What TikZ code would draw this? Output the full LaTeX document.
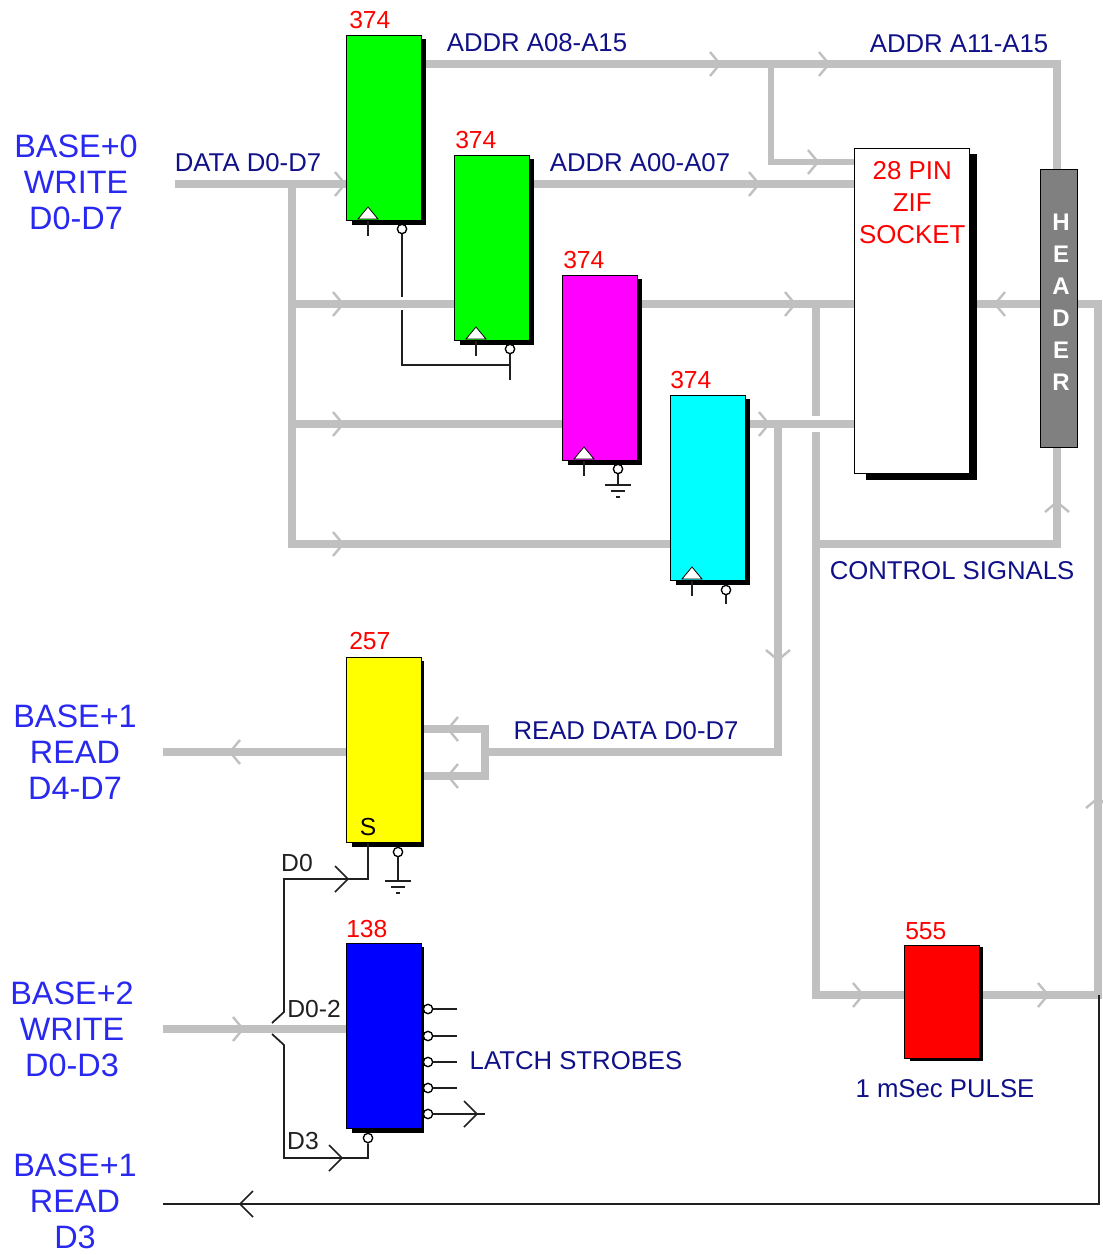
\documentclass[tikz,border=0pt]{standalone}
\usepackage{fontspec}
\setmainfont{Liberation Sans}
\usetikzlibrary{positioning,backgrounds}
\pgfdeclarelayer{buses}
\pgfsetlayers{buses,background,main}
\definecolor{busGray}{HTML}{C0C0C0}
\definecolor{wireDark}{HTML}{202020}
\definecolor{baseBlue}{HTML}{2828F0}
\definecolor{noteNavy}{HTML}{101088}
\definecolor{partRed}{HTML}{FF0000}
\definecolor{hdrGray}{HTML}{808080}
\definecolor{chipGreen}{HTML}{00FF00}
\definecolor{chipMagenta}{HTML}{FF00FF}
\definecolor{chipCyan}{HTML}{00FFFF}
\definecolor{chipYellow}{HTML}{FFFF00}
\definecolor{chipBlue}{HTML}{0000FF}
\definecolor{chipRed}{HTML}{FF0000}

\begin{document}
\begin{tikzpicture}[
  x=0.75pt, y=-0.75pt,
  font=\fontsize{18.5}{24}\selectfont,
  bus/.style={line width=5.6pt, draw=busGray},
  wire/.style={line width=1.3pt, draw=wireDark},
  base/.style={font=\fontsize{24.3}{27}\selectfont, text=baseBlue, align=center, inner sep=0pt},
  note/.style={font=\fontsize{19.3}{24}\selectfont, text=noteNavy, inner sep=0pt},
  partno/.style={text=partRed, inner sep=0pt},
  pinname/.style={text=wireDark, inner sep=0pt},
  chip/.style={
    rectangle, draw=black, line width=1.1pt, inner sep=0pt, anchor=north west,
    minimum width=56.25pt, minimum height=138.75pt
  },
  bubble/.style={circle, draw=black, fill=white, line width=1pt, minimum size=7pt, inner sep=0pt},
  clocktip/.style={draw=black, fill=white, line width=0.6pt},
  graybarb/.pic={\draw[line width=1.8pt, draw=busGray, line join=miter] (-10,-12) -- (0,0) -- (-10,12);},
  wirebarb/.pic={\draw[wire] (-13,-13) -- (0,0) -- (-13,13);},
  earth/.pic={
    \draw[wire] (-13,0) -- (13,0);
    \draw[wire] (-7,6) -- (7,6);
    \draw[wire] (-2,12) -- (2,12);
  }
]
\useasboundingbox (0,0) rectangle (1102,1255);

% Chips
\node[chip, fill=chipGreen] (u1) at (346,35) {};
\node[chip, fill=chipGreen] (u2) at (454,155) {};
\node[chip, fill=chipMagenta] (u3) at (562,275) {};
\node[chip, fill=chipCyan] (u4) at (670,395) {};
\node[chip, fill=chipYellow] (u5) at (346,657) {};
\node[chip, fill=chipBlue] (u6) at (346,943) {};
\node[chip, fill=chipRed, minimum height=84.75pt] (u7) at (904,945) {};
\node[chip, fill=white, minimum width=86.25pt, minimum height=243.75pt] (zif) at (854,148) {};
\node[chip, fill=hdrGray, minimum width=27.75pt, minimum height=208.5pt] (hdr) at (1040,169) {};

% Shadows
\begin{scope}[on background layer]
\fill ([xshift=4.5pt,yshift=-3pt]u1.north west) rectangle ([xshift=3pt,yshift=-3pt]u1.south east);
\fill ([xshift=4.5pt,yshift=-3pt]u2.north west) rectangle ([xshift=3pt,yshift=-3pt]u2.south east);
\fill ([xshift=4.5pt,yshift=-3pt]u3.north west) rectangle ([xshift=3pt,yshift=-3pt]u3.south east);
\fill ([xshift=4.5pt,yshift=-3pt]u4.north west) rectangle ([xshift=3pt,yshift=-3pt]u4.south east);
\fill ([xshift=4.5pt,yshift=-3pt]u5.north west) rectangle ([xshift=1.5pt,yshift=-3pt]u5.south east);
\fill ([xshift=4.5pt,yshift=-3pt]u6.north west) rectangle ([xshift=1.5pt,yshift=-3pt]u6.south east);
\fill ([xshift=4.5pt,yshift=-1.5pt]u7.north west) rectangle ([xshift=2.25pt,yshift=-1.5pt]u7.south east);
\fill ([xshift=9pt,yshift=-4.5pt]zif.north west) rectangle ([xshift=5.25pt,yshift=-4.5pt]zif.south east);
\end{scope}

% Part numbers
\node[partno, above right=4.5pt and 2.25pt of u1.north west] {374};
\node[partno, above right=4.5pt and 0.75pt of u2.north west] {374};
\node[partno, above right=4.5pt and 0.75pt of u3.north west] {374};
\node[partno, above right=4.5pt and 0pt of u4.north west] {374};
\node[partno, above right=5pt and 2.25pt of u5.north west] {257};
\node[partno, above right=3.75pt and 0pt of u6.north west] {138};
\node[partno, above right=3.75pt and 0.75pt of u7.north west] {555};
\node[partno, align=center, font=\fontsize{19.4}{24}\selectfont, below=10pt of zif.north] (zifText) {28 PIN\\ZIF\\SOCKET};
\node[text=white, inner sep=0pt, align=center, font=\fontsize{18}{24}\selectfont\bfseries] (hdrText) at (1061,302) {H\\E\\A\\D\\E\\R};
\node[inner sep=0pt] (selS) at (368,827) {S};

% Labels
\node[base] (lblW0) at (76,182) {BASE+0\\WRITE\\D0-D7};
\node[base] (lblR1) at (75,752) {BASE+1\\READ\\D4-D7};
\node[base] (lblW2) at (72,1029) {BASE+2\\WRITE\\D0-D3};
\node[base] (lblR3) at (75,1201) {BASE+1\\READ\\D3};
\node[note] (lblData) at (248,163) {DATA D0-D7};
\node[note] (lblHigh) at (537,43) {ADDR A08-A15};
\node[note] (lblLow) at (640,163) {ADDR A00-A07};
\node[note] (lblTop) at (959,44) {ADDR A11-A15};
\node[note] (lblCtl) at (952,571) {CONTROL SIGNALS};
\node[note] (lblRead) at (626,731) {READ DATA D0-D7};
\node[note] (lblPulse) at (945,1089) {1 mSec PULSE};
\node[note] (lblStrobe) at (576,1061) {LATCH STROBES};
\node[pinname] (pinD0) at (297,863) {D0};
\node[pinname] (pinD02) at (314,1009) {D0-2};
\node[pinname] (pinD3) at (303,1141) {D3};

% Rows and columns of the buses
\coordinate (rowHigh) at (0,64);
\coordinate (rowTap) at (0,162);
\coordinate (rowLow) at (0,184);
\coordinate (rowP) at (0,304);
\coordinate (rowQ) at (0,424);
\coordinate (rowR) at (0,544);
\coordinate (rowRead) at (0,752);
\coordinate (rowPulse) at (0,995);
\coordinate (rowWrite) at (0,1029);
\coordinate (colData) at (292,0);
\coordinate (colTap) at (771,0);
\coordinate (colRead) at (778,0);
\coordinate (colCtl) at (816,0);
\coordinate (colHdr) at (1057,0);
\coordinate (colPwr) at (1098,0);
\coordinate (dataIn) at (175,184);
\coordinate (ctlGapTop) at (816,416);
\coordinate (ctlGapBot) at (816,432);
\coordinate (loopTop) at (485,729);
\coordinate (loopBot) at (485,776);
\coordinate (readOut) at (163,752);
\coordinate (writeIn) at (163,1029);

% Buses
\begin{pgfonlayer}{buses}
\draw[bus] (dataIn) -- (rowLow -| u1.west);
\draw[bus] (rowLow -| colData) |- (rowR -| u4.west);
\draw[bus] (rowP -| colData) -- (rowP -| u2.west);
\draw[bus] (rowQ -| colData) -- (rowQ -| u3.west);
\draw[bus] (rowHigh -| u1.east) -- (rowHigh -| colHdr) -- (hdr.north -| colHdr);
\draw[bus, line width=4.5pt] (rowHigh -| colTap) |- (rowTap -| zif.west);
\draw[bus] (rowLow -| u2.east) -- (rowLow -| zif.west);
\draw[bus] (rowP -| u3.east) -- (rowP -| zif.west);
\draw[bus] (rowQ -| u4.east) -- (rowQ -| zif.west);
\draw[bus] (rowP -| colCtl) -- (ctlGapTop);
\draw[bus] (ctlGapBot) |- (rowPulse -| u7.west);
\draw[bus] (rowR -| colCtl) -| (hdr.south -| colHdr);
\draw[bus] (rowQ -| colRead) |- (loopTop |- rowRead);
\draw[bus] (loopTop -| u5.east) -- (loopTop) -- (loopBot) -- (loopBot -| u5.east);
\draw[bus] (rowRead -| u5.west) -- (readOut);
\draw[bus] (writeIn) -- (rowWrite -| u6.west);
\draw[bus] (rowP -| zif.east) -- (rowP -| colPwr) -- (rowPulse -| colPwr) -- (rowPulse -| u7.east);

\pic at (345,184) {graybarb};
\pic at (343,304) {graybarb};
\pic at (343,424) {graybarb};
\pic at (343,544) {graybarb};
\pic at (720,64) {graybarb};
\pic at (829,64) {graybarb};
\pic at (818,162) {graybarb};
\pic at (759,184) {graybarb};
\pic at (795,304) {graybarb};
\pic at (769,424) {graybarb};
\pic at (863,995) {graybarb};
\pic at (1048,995) {graybarb};
\pic at (243,1029) {graybarb};
\pic[rotate=180] at (995,304) {graybarb};
\pic[rotate=180] at (448,729) {graybarb};
\pic[rotate=180] at (448,776) {graybarb};
\pic[rotate=180] at (230,752) {graybarb};
\pic[rotate=90] at (1057,502) {graybarb};
\pic[rotate=90] at (1098,798) {graybarb};
\pic[rotate=-90] at (778,660) {graybarb};
\end{pgfonlayer}

% Clock inputs
\draw[clocktip] (358,219) -- (368,207) -- (378,219) -- cycle;
\draw[clocktip] (466,339) -- (476,327) -- (486,339) -- cycle;
\draw[clocktip] (574,459) -- (584,447) -- (594,459) -- cycle;
\draw[clocktip] (682,579) -- (692,567) -- (702,579) -- cycle;
\coordinate (u1clk) at (368,236);
\coordinate (u2clk) at (476,356);
\coordinate (u3clk) at (584,476);
\coordinate (u4clk) at (692,596);
\draw[wire] (u1clk |- u1.south) -- (u1clk);
\draw[wire] (u2clk |- u2.south) -- (u2clk);
\draw[wire] (u3clk |- u3.south) -- (u3clk);
\draw[wire] (u4clk |- u4.south) -- (u4clk);

% Enable pins
\node[bubble] (u1oe) at (402,229) {};
\node[bubble] (u2oe) at (510,349) {};
\node[bubble] (u3oe) at (618,469) {};
\node[bubble] (u4oe) at (726,590) {};
\node[bubble] (u5oe) at (398,852) {};
\node[bubble] (u6en) at (368,1138) {};
\coordinate (oeGapTop) at (402,297);
\coordinate (oeGapBot) at (402,310);
\coordinate (oeJoin) at (510,365);
\coordinate (oeEnd) at (510,380);
\coordinate (u3gnd) at (618,485);
\coordinate (u4end) at (726,604);
\coordinate (u5gnd) at (398,881);
\draw[wire] (u1oe) -- (oeGapTop);
\draw[wire] (oeGapBot) |- (oeJoin);
\draw[wire] (u2oe) -- (oeEnd);
\draw[wire] (u3oe) -- (u3gnd);
\draw[wire] (u4oe) -- (u4end);
\draw[wire] (u5oe) -- (u5gnd);
\pic at (u3gnd) {earth};
\pic at (u5gnd) {earth};

% Strobes of the decoder
\node[bubble] (st0) at (428,1009) {};
\node[bubble] (st1) at (428,1036) {};
\node[bubble] (st2) at (428,1062) {};
\node[bubble] (st3) at (428,1088) {};
\node[bubble] (st4) at (428,1114) {};
\coordinate (end0) at (457,1009);
\coordinate (end1) at (457,1036);
\coordinate (end2) at (457,1062);
\coordinate (end3) at (457,1088);
\coordinate (end4) at (485,1114);
\draw[wire] (st0) -- (end0);
\draw[wire] (st1) -- (end1);
\draw[wire] (st2) -- (end2);
\draw[wire] (st3) -- (end3);
\draw[wire] (st4) -- (end4);
\pic at (477,1114) {wirebarb};

% Fork off the write bus
\coordinate (forkUp) at (272,1023);
\coordinate (forkDown) at (272,1034);
\coordinate (upBend) at (284,1012);
\coordinate (downBend) at (284,1045);
\coordinate (upCorner) at (284,879);
\coordinate (downCorner) at (284,1158);
\draw[wire] (forkUp) -- (upBend) -- (upCorner) -| (selS.south |- u5.south);
\draw[wire] (forkDown) -- (downBend) -- (downCorner) -| (u6en);
\pic at (348,879) {wirebarb};
\pic at (342,1158) {wirebarb};

% Long read line
\coordinate (retCorner) at (1099,1204);
\coordinate (retEnd) at (163,1204);
\draw[wire] (rowPulse -| retCorner) -- (retCorner) -- (retEnd);
\pic[rotate=180] at (240,1204) {wirebarb};

\end{tikzpicture}
\end{document}
